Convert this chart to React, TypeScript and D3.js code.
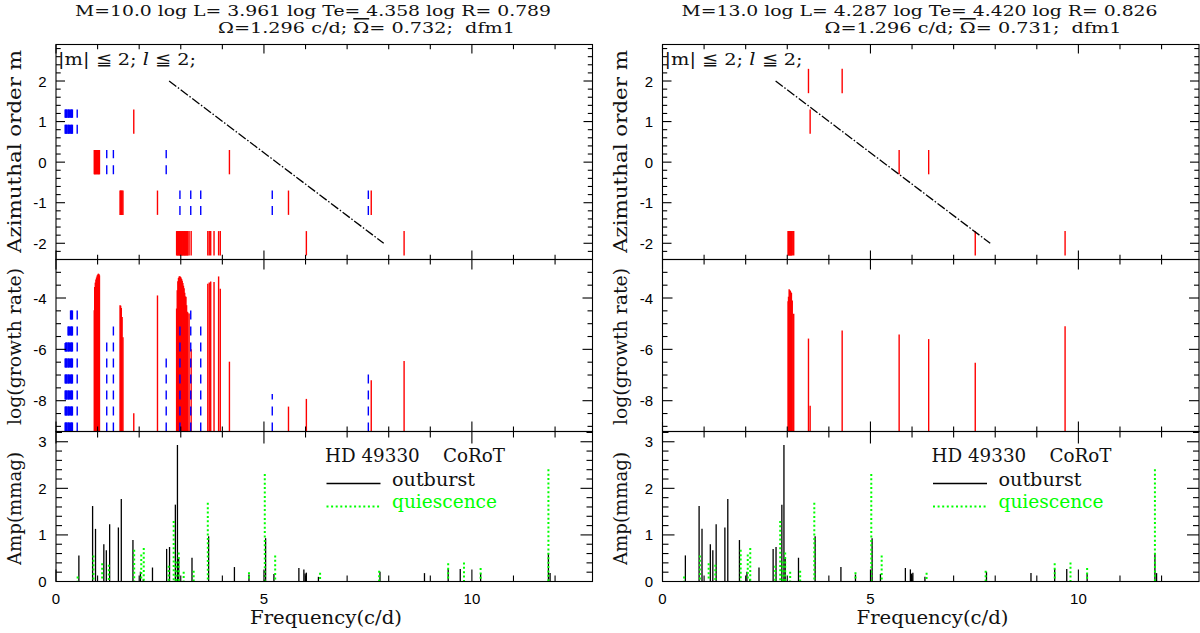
import React from 'react';
import * as d3 from 'd3';

// ---------------- data ----------------
const xDomain: [number, number] = [0, 12.9];
const mDomain: [number, number] = [-2.4, 2.9];
const rateDomain: [number, number] = [-9.2, -2.5];
const ampDomain: [number, number] = [0, 3.22];

const mTicks = [-2, -1, 0, 1, 2];
const rateTicks = [-8, -6, -4];
const ampTicks = [0, 1, 2, 3];
const freqTicks = [0, 5, 10];

// title line 1, then line 2 split around the barred Omega
const titlesA = ['M=10.0 log L= 3.961 log Te= 4.358 log R= 0.789', 'Ω=1.296 c/d; ', 'Ω', '= 0.732;  dfm1'];
const titlesB = ['M=13.0 log L= 4.287 log Te= 4.420 log R= 0.826', 'Ω=1.296 c/d; ', 'Ω', '= 0.731;  dfm1'];

// modes: [frequency c/d, azimuthal order m, log growth rate]
const modelARed: [number, number, number][] = [
  [0.92, 0, -4.48], [0.93, 0, -3.57], [0.945, 0, -3.4], [0.96, 0, -3.28], [0.975, 0, -3.2],
  [0.99, 0, -3.12], [1.005, 0, -3.08], [1.02, 0, -3.05], [1.035, 0, -3.07], [1.045, 0, -3.12],
  [4.17, 0, -6.48],
  [1.87, 1, -8.49],
  [1.54, -1, -4.28], [1.555, -1, -4.3], [1.57, -1, -4.39], [1.59, -1, -4.74], [1.61, -1, -5.53],
  [2.44, -1, -3.9], [5.59, -1, -8.23], [7.58, -1, -7.2],
  [2.9, -2, -4.41], [2.915, -2, -3.7], [2.93, -2, -3.35], [2.945, -2, -3.22], [2.96, -2, -3.16],
  [2.975, -2, -3.15], [2.99, -2, -3.17], [3.005, -2, -3.2], [3.02, -2, -3.26], [3.035, -2, -3.33],
  [3.05, -2, -3.42], [3.065, -2, -3.52], [3.08, -2, -3.62], [3.095, -2, -3.8], [3.11, -2, -3.94],
  [3.125, -2, -3.95], [3.14, -2, -4.28], [3.155, -2, -4.54], [3.17, -2, -4.56], [3.2, -2, -4.6],
  [3.25, -2, -6.0],
  [3.65, -2, -3.44], [3.685, -2, -3.4], [3.72, -2, -3.36], [3.8, -2, -3.38], [3.91, -2, -3.16], [3.95, -2, -3.64],
  [6.02, -2, -7.93], [8.37, -2, -6.45],
];
const modelABlue: [number, number, number][] = [
  [0.22, 1, -5.75], [0.235, 1, -5.72], [0.25, 1, -5.62], [0.265, 1, -5.6], [0.29, 1, -5.05],
  [0.305, 1, -5.0], [0.32, 1, -5.0], [0.35, 1, -4.35], [0.365, 1, -4.32], [0.38, 1, -4.33],
  [0.395, 1, -4.4], [0.51, 1, -4.45],
  [1.22, 0, -5.62], [1.38, 0, -4.97], [2.65, 0, -6.25],
  [2.98, -1, -4.97], [3.24, -1, -4.41], [3.48, -1, -4.97], [5.2, -1, -7.74], [7.51, -1, -6.9],
];
const modelBRed: [number, number, number][] = [
  [3.02, -2, -4.13], [3.03, -2, -3.95], [3.045, -2, -3.66], [3.06, -2, -3.7], [3.075, -2, -3.72],
  [3.09, -2, -3.79], [3.1, -2, -3.8], [3.12, -2, -4.1], [3.155, -2, -4.61],
  [3.51, 2, -5.58], [4.32, 2, -5.27], [3.55, 1, -8.2],
  [5.69, 0, -5.42], [6.4, 0, -5.6],
  [7.52, -2, -6.52], [9.68, -2, -5.1],
];
const modelBBlue: [number, number, number][] = [];

// corotation-like diagonal
const diagFreq = [2.72, 7.88];
const diagM = [2, -2];

// observed amplitudes HD 49330 CoRoT: [frequency, amplitude mmag]
const outburst: [number, number][] = [
  [0.55, 0.56], [0.88, 1.62], [0.95, 1.13], [1.15, 0.8], [1.21, 0.67], [1.29, 1.23], [1.5, 1.16],
  [1.57, 1.77], [1.85, 0.89], [2.03, 0.21], [2.1, 0.05], [2.32, 0.3], [2.66, 0.7], [2.73, 0.74],
  [2.87, 1.65], [2.92, 2.93], [2.95, 0.52], [3.27, 0.51], [3.67, 0.97], [4.29, 0.31], [4.64, 0.15],
  [5.04, 0.93], [5.24, 0.16], [5.84, 0.29], [5.96, 0.26], [5.99, 0.17], [6.02, 0.19], [6.31, 0.1],
  [7.79, 0.21], [8.86, 0.18], [9.43, 0.27], [9.72, 0.27], [10.21, 0.18], [11.84, 0.61], [11.88, 0.18],
];
const quiescence: [number, number][] = [
  [0.52, 0.11], [0.9, 0.56], [1.11, 0.39], [1.27, 0.36], [1.88, 0.68], [2.05, 0.58], [2.11, 0.72],
  [2.71, 0.34], [2.83, 1.3], [2.89, 0.43], [2.95, 0.62], [3.07, 0.21], [3.31, 0.23], [3.65, 1.69],
  [4.64, 0.2], [5.02, 2.31], [5.27, 0.56], [6.35, 0.19], [7.77, 0.23], [9.43, 0.39], [9.81, 0.41],
  [10.21, 0.29], [11.84, 2.41],
];

// ---------------- layout ----------------
const W = 1200;
const H = 633;
const PW = 536.5;
const TOP = { y0: 44.5, y1: 259.5 };
const MID = { y0: 259.5, y1: 431.5 };
const BOT = { y0: 431.5, y1: 581.5 };
const SERIF = "'DejaVu Serif', 'Liberation Serif', serif";
const SANS = "'Liberation Sans', Arial, sans-serif";
const RED = '#ff0000';
const BLUE = '#0000ff';
const GREEN = '#00ff00';
const HALF = 0.3;

const xMinor = d3.range(0, 13);
const mMinor = d3.range(-12, 15).map((i) => i / 5);
const rateMinor = d3.range(-18, -4).map((i) => i / 2);
const ampMinor = d3.range(1, 17).map((i) => i / 5);

function Frame({ x, box, yScale, yMajor, yMinorV, maj, min }: any) {
  const x0 = x.range()[0];
  const x1 = x.range()[1];
  const els: any[] = [];
  xMinor.forEach((f) => {
    const len = freqTicks.includes(f) ? maj : min;
    const px = x(f);
    els.push(<line key={`xb${f}`} x1={px} x2={px} y1={box.y1} y2={box.y1 - len} />);
    els.push(<line key={`xt${f}`} x1={px} x2={px} y1={box.y0} y2={box.y0 + len} />);
  });
  yMinorV.forEach((v: number) => {
    const isMaj = yMajor.some((t: number) => Math.abs(t - v) < 1e-6);
    const len = isMaj ? maj : min;
    const py = yScale(v);
    if (py < box.y0 + 0.5 || py > box.y1 - 0.5) return;
    els.push(<line key={`yl${v}`} x1={x0} x2={x0 + len} y1={py} y2={py} />);
    els.push(<line key={`yr${v}`} x1={x1} x2={x1 - len} y1={py} y2={py} />);
  });
  return (
    <g stroke="#000" strokeWidth={1.1} fill="none">
      <rect x={x0} y={box.y0} width={x1 - x0} height={box.y1 - box.y0} />
      {els}
    </g>
  );
}

function Panel({ x0, titles, red, blue }: { x0: number; titles: string[]; red: [number, number, number][]; blue: [number, number, number][] }) {
  const x = d3.scaleLinear().domain(xDomain).range([x0, x0 + PW]);
  const yM = d3.scaleLinear().domain(mDomain).range([TOP.y1, TOP.y0]);
  const yR = d3.scaleLinear().domain(rateDomain).range([MID.y1, MID.y0]);
  const yA = d3.scaleLinear().domain(ampDomain).range([BOT.y1, BOT.y0]);
  const diag = d3.line<number>().x((_, i) => x(diagFreq[i])).y((d) => yM(d));
  const labX = x0 - 35.5;

  return (
    <g>
      {/* titles */}
      <text x={x0 + 19} y={15.5} fontFamily={SERIF} fontSize={15.5} textLength={476} lengthAdjust="spacingAndGlyphs" fill="#111">{titles[0]}</text>
      <text x={x0 + 162} y={33} fontFamily={SERIF} fontSize={15.5} textLength={297} lengthAdjust="spacingAndGlyphs" style={{ whiteSpace: 'pre' }} fill="#111">
        {titles[1]}
        <tspan style={{ textDecoration: 'overline' }}>{titles[2]}</tspan>
        {titles[3]}
      </text>

      {/* top panel: m */}
      <g strokeWidth={1.4}>
        {red.map((d, i) => (
          <line key={`tr${i}`} x1={x(d[0])} x2={x(d[0])} y1={yM(d[1] - HALF)} y2={yM(d[1] + HALF)} stroke={RED} />
        ))}
        {blue.map((d, i) => (
          <line key={`tb${i}`} x1={x(d[0])} x2={x(d[0])} y1={yM(d[1] - HALF)} y2={yM(d[1] + HALF)} stroke={BLUE} strokeDasharray="9,7" />
        ))}
      </g>
      <path d={diag(diagM) || ''} stroke="#000" strokeWidth={1.3} fill="none" strokeDasharray="9,2,1.5,2" />
      <text x={x0 + 2} y={65} fontFamily={SERIF} fontSize={17} textLength={138} lengthAdjust="spacingAndGlyphs" fill="#111">
        |m| ≦ 2; <tspan fontStyle="italic">l</tspan> ≦ 2;
      </text>

      {/* middle panel: growth rate */}
      <g strokeWidth={1.4}>
        {red.map((d, i) => (
          <line key={`mr${i}`} x1={x(d[0])} x2={x(d[0])} y1={yR(rateDomain[0])} y2={yR(d[2])} stroke={RED} />
        ))}
        {blue.map((d, i) => (
          <line key={`mb${i}`} x1={x(d[0])} x2={x(d[0])} y1={yR(rateDomain[0])} y2={yR(d[2])} stroke={BLUE} strokeDasharray="9,7" />
        ))}
      </g>

      {/* bottom panel: amplitudes */}
      <g>
        {outburst.map((d, i) => (
          <line key={`o${i}`} x1={x(d[0])} x2={x(d[0])} y1={yA(0)} y2={yA(d[1])} stroke="#000" strokeWidth={1.3} />
        ))}
        {quiescence.map((d, i) => (
          <line key={`q${i}`} x1={x(d[0])} x2={x(d[0])} y1={yA(d[1])} y2={yA(0)} stroke={GREEN} strokeWidth={2} strokeDasharray="2,2.4" />
        ))}
      </g>

      {/* legend */}
      <text x={x0 + 269} y={462} fontFamily={SERIF} fontSize={18} textLength={180} lengthAdjust="spacingAndGlyphs" style={{ whiteSpace: 'pre' }} fill="#111">HD 49330    CoRoT</text>
      <line x1={x0 + 270.5} x2={x0 + 324.5} y1={483.5} y2={483.5} stroke="#000" strokeWidth={1.4} />
      <text x={x0 + 336} y={486} fontFamily={SERIF} fontSize={18} textLength={83} lengthAdjust="spacingAndGlyphs" fill="#111">outburst</text>
      <line x1={x0 + 270.5} x2={x0 + 324.5} y1={506.5} y2={506.5} stroke={GREEN} strokeWidth={2} strokeDasharray="2,2.6" />
      <text x={x0 + 336} y={508} fontFamily={SERIF} fontSize={18} fill={GREEN} textLength={105} lengthAdjust="spacingAndGlyphs">quiescence</text>

      {/* frames */}
      <Frame x={x} box={TOP} yScale={yM} yMajor={mTicks} yMinorV={mMinor} maj={9} min={4.7} />
      <Frame x={x} box={MID} yScale={yR} yMajor={rateTicks} yMinorV={rateMinor} maj={10} min={5} />
      <Frame x={x} box={BOT} yScale={yA} yMajor={ampTicks} yMinorV={ampMinor} maj={12} min={6} />

      {/* tick labels */}
      <g fontFamily={SANS} fontSize={15} textAnchor="end">
        {mTicks.map((t) => (
          <text key={`ml${t}`} x={x0 - 9.5} y={yM(t) + 5.5}>{String(t)}</text>
        ))}
        {rateTicks.map((t) => (
          <text key={`rl${t}`} x={x0 - 9.5} y={yR(t) + 5.5}>{String(t)}</text>
        ))}
        {ampTicks.map((t) => (
          <text key={`al${t}`} x={x0 - 9.5} y={yA(t) + 5.5}>{String(t)}</text>
        ))}
      </g>
      <g fontFamily={SANS} fontSize={15} textAnchor="middle">
        {freqTicks.map((t) => (
          <text key={`fl${t}`} x={x(t)} y={604}>{String(t)}</text>
        ))}
      </g>

      {/* axis labels */}
      <g fontFamily={SERIF} fontSize={19} textAnchor="middle" fill="#111">
        <text transform={`translate(${labX},151.5) rotate(-90)`} textLength={203} lengthAdjust="spacingAndGlyphs">Azimuthal order m</text>
        <text transform={`translate(${labX},346.5) rotate(-90)`} textLength={157} lengthAdjust="spacingAndGlyphs">log(growth rate)</text>
        <text transform={`translate(${labX},508.5) rotate(-90)`} textLength={113} lengthAdjust="spacingAndGlyphs">Amp(mmag)</text>
        <text x={x0 + 270} y={624} textLength={152} lengthAdjust="spacingAndGlyphs">Frequency(c/d)</text>
      </g>
    </g>
  );
}

export default function App() {
  return (
    <svg width={W} height={H} viewBox={`0 0 ${W} ${H}`} style={{ position: 'absolute', left: 0, top: 0, background: '#fff' }}>
      <rect x={0} y={0} width={W} height={H} fill="#fff" />
      <Panel x0={56} titles={titlesA} red={modelARed} blue={modelABlue} />
      <Panel x0={662.5} titles={titlesB} red={modelBRed} blue={modelBBlue} />
    </svg>
  );
}
